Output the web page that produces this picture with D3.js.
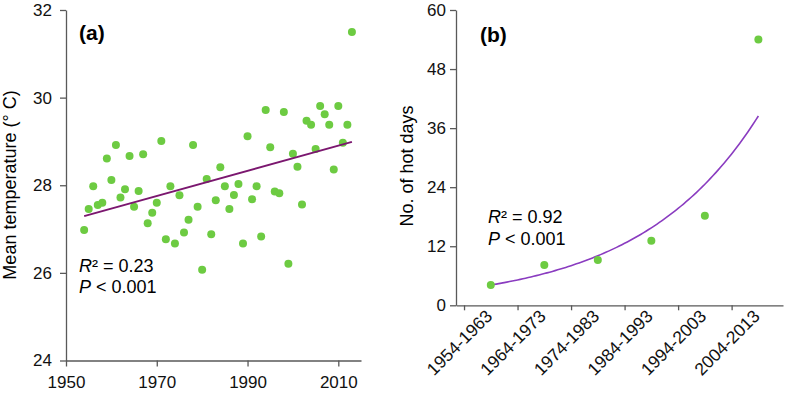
<!DOCTYPE html>
<html>
<head>
<meta charset="utf-8">
<script src="https://cdn.jsdelivr.net/npm/d3@7"></script>
<style>
  body { margin: 0; background: #fff; }
  svg { display: block; font-family: Arial, "Liberation Sans", sans-serif; }
</style>
</head>
<body>
<div id="chart"></div>
<script>
// Panel (a): yearly mean temperature
const years = [1954, 1955, 1956, 1957, 1958, 1959, 1960, 1961, 1962, 1963,
  1964, 1965, 1966, 1967, 1968, 1969, 1970, 1971, 1972, 1973,
  1974, 1975, 1976, 1977, 1978, 1979, 1980, 1981, 1982, 1983,
  1984, 1985, 1986, 1987, 1988, 1989, 1990, 1991, 1992, 1993,
  1994, 1995, 1996, 1997, 1998, 1999, 2000, 2001, 2002, 2003,
  2004, 2005, 2006, 2007, 2008, 2009, 2010, 2011, 2012, 2013];
const temps = [26.98, 27.46, 27.98, 27.55, 27.60, 28.61, 28.12, 28.92, 27.72, 27.91,
  28.67, 27.51, 27.87, 28.71, 27.13, 27.37, 27.60, 29.01, 26.77, 27.98,
  26.67, 27.77, 26.92, 27.21, 28.92, 27.51, 26.07, 28.14, 26.88, 27.66,
  28.41, 27.98, 27.46, 27.78, 28.03, 26.67, 29.12, 27.68, 27.98, 26.83,
  29.72, 28.87, 27.86, 27.82, 29.67, 26.21, 28.72, 28.42, 27.56, 29.47,
  29.38, 28.83, 29.81, 29.62, 29.38, 28.36, 29.81, 28.97, 29.38, 31.50];
const yearTicks = [1950, 1970, 1990, 2010];
const tempTicks = [24, 26, 28, 30, 32];

// Panel (b): hot days per decade
const periods = ["1954-1963", "1964-1973", "1974-1983", "1984-1993", "1994-2003", "2004-2013"];
const hotDays = [4.1, 8.2, 9.2, 13.1, 18.2, 54.0];
const dayTicks = [0, 12, 24, 36, 48, 60];

const width = 787, height = 395;
const green = "#6dcb42";
const axisColor = "#595959";

const svg = d3.select("#chart").append("svg")
  .attr("width", width)
  .attr("height", height)
  .attr("viewBox", [0, 0, width, height]);

const styleAxis = (g, size) => {
  g.selectAll(".domain, .tick line").attr("stroke", axisColor).attr("stroke-width", 1.3);
  g.selectAll("text").attr("fill", "#111").style("font-size", size + "px").style("font-family", "Arial, 'Liberation Sans', sans-serif");
};

/* ---------- panel (a) ---------- */
const xa = d3.scaleLinear([1950, 2015], [66, 361]);
const ya = d3.scaleLinear([24, 32], [360.5, 10]);

svg.append("g")
  .attr("transform", `translate(0,${ya(24)})`)
  .call(d3.axisBottom(xa).tickValues(yearTicks).tickFormat(d3.format("d")).tickSize(6).tickSizeOuter(0).tickPadding(9))
  .call((g) => styleAxis(g, 17));

svg.append("g")
  .attr("transform", `translate(${xa(1950)},0)`)
  .call(d3.axisLeft(ya).tickValues(tempTicks).tickSize(6).tickSizeOuter(0).tickPadding(8))
  .call((g) => styleAxis(g, 17));

// linear fit of temperature on year
const mx = d3.mean(years), my = d3.mean(temps);
const slope = d3.sum(years, (x, i) => (x - mx) * (temps[i] - my)) / d3.sum(years, (x) => (x - mx) ** 2);
const icpt = my - slope * mx;
const fitA = [years[0], years[years.length - 1]].map((x) => ({ x, y: icpt + slope * x }));

svg.append("g")
  .selectAll("circle")
  .data(years.map((y, i) => ({ year: y, t: temps[i] })))
  .join("circle")
  .attr("cx", (d) => xa(d.year))
  .attr("cy", (d) => ya(d.t))
  .attr("r", 4)
  .attr("fill", green);

svg.append("path")
  .datum(fitA)
  .attr("fill", "none")
  .attr("stroke", "#7b176f")
  .attr("stroke-width", 2)
  .attr("d", d3.line().x((d) => xa(d.x)).y((d) => ya(d.y)));

svg.append("text").attr("x", 79).attr("y", 40)
  .style("font-size", "21px").style("font-weight", "bold").text("(a)");

const statsA = svg.append("text").attr("x", 79).attr("y", 272).style("font-size", "18px");
statsA.append("tspan").style("font-style", "italic").text("R");
statsA.append("tspan").text("² = 0.23");
const pA = svg.append("text").attr("x", 79).attr("y", 293).style("font-size", "18px");
pA.append("tspan").style("font-style", "italic").text("P");
pA.append("tspan").text(" < 0.001");

svg.append("text")
  .attr("transform", `translate(16,185) rotate(-90)`)
  .attr("text-anchor", "middle")
  .style("font-size", "18px")
  .text("Mean temperature (° C)");

/* ---------- panel (b) ---------- */
const xb = d3.scaleLinear([-0.65, 5.46], [456, 783]);
const yb = d3.scaleLinear([0, 60], [305.3, 10]);

svg.append("g")
  .attr("transform", `translate(0,${yb(0)})`)
  .call(d3.axisBottom(xb).tickValues([-0.5, 0.5, 1.5, 2.5, 3.5, 4.5]).tickFormat("").tickSize(5).tickSizeOuter(0))
  .call((g) => styleAxis(g, 16));

const labB = svg.append("g")
  .attr("transform", `translate(0,${yb(0)})`)
  .call(d3.axisBottom(xb).tickValues(d3.range(periods.length)).tickFormat((i) => periods[i]).tickSize(0))
  .call((g) => g.select(".domain").remove())
  .call((g) => styleAxis(g, 17.5));
labB.selectAll("text")
  .attr("x", 0).attr("y", 0).attr("dy", 0)
  .attr("text-anchor", "end")
  .attr("transform", "translate(2,12) rotate(-45)");

svg.append("g")
  .attr("transform", `translate(${xb.range()[0]},0)`)
  .call(d3.axisLeft(yb).tickValues(dayTicks).tickSize(6).tickSizeOuter(0).tickPadding(4))
  .call((g) => styleAxis(g, 17));

// exponential fit via least squares on log values
const idx = hotDays.map((d, i) => i);
const lx = d3.mean(idx), ly = d3.mean(hotDays, (d) => Math.log(d));
const bExp = d3.sum(idx, (i) => (i - lx) * (Math.log(hotDays[i]) - ly)) / d3.sum(idx, (i) => (i - lx) ** 2);
const aExp = Math.exp(ly - bExp * lx);
const fitB = d3.range(0, 5.001, 0.05).map((x) => ({ x, y: aExp * Math.exp(bExp * x) }));

svg.append("path")
  .datum(fitB)
  .attr("fill", "none")
  .attr("stroke", "#8a3cc0")
  .attr("stroke-width", 1.6)
  .attr("d", d3.line().x((d) => xb(d.x)).y((d) => yb(d.y)));

svg.append("g")
  .selectAll("circle")
  .data(hotDays)
  .join("circle")
  .attr("cx", (d, i) => xb(i))
  .attr("cy", (d) => yb(d))
  .attr("r", 4)
  .attr("fill", green);

svg.append("text").attr("x", 480).attr("y", 42)
  .style("font-size", "21px").style("font-weight", "bold").text("(b)");

const statsB = svg.append("text").attr("x", 488).attr("y", 223).style("font-size", "18px");
statsB.append("tspan").style("font-style", "italic").text("R");
statsB.append("tspan").text("² = 0.92");
const pB = svg.append("text").attr("x", 488).attr("y", 245).style("font-size", "18px");
pB.append("tspan").style("font-style", "italic").text("P");
pB.append("tspan").text(" < 0.001");

svg.append("text")
  .attr("transform", `translate(413,166) rotate(-90)`)
  .attr("text-anchor", "middle")
  .style("font-size", "18px")
  .text("No. of hot days");
</script>
</body>
</html>
